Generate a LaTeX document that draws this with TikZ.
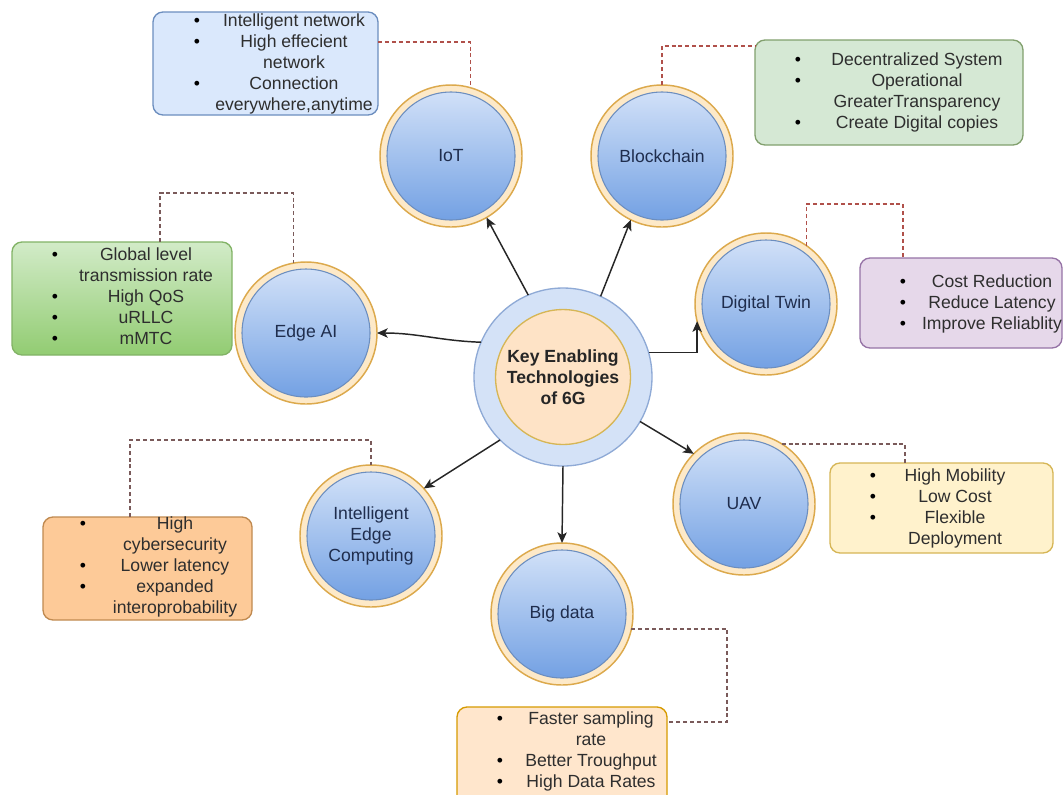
\documentclass[tikz,border=0pt]{standalone}
\usepackage{fontspec}
\setmainfont{Liberation Sans}
\usepackage{array}
\usetikzlibrary{arrows.meta,calc,fit}

\definecolor{ringfill}{HTML}{FDE9C8}
\definecolor{ringline}{HTML}{DCA94C}
\definecolor{blueTop}{HTML}{D6E4F9}
\definecolor{blueBot}{HTML}{6E9DE2}
\definecolor{blueLine}{HTML}{6C8EBF}
\definecolor{techtext}{HTML}{1F2D4D}
\definecolor{hubring}{HTML}{D4E2F7}
\definecolor{hubline}{HTML}{8FAAD6}
\definecolor{hubcore}{HTML}{FEE3C6}
\definecolor{hubcoreline}{HTML}{D6B656}
\definecolor{boxtext}{HTML}{2E2E2E}
\definecolor{arrowcol}{HTML}{262626}
\definecolor{reddash}{HTML}{B0504A}
\definecolor{greydash}{HTML}{7A5A5A}
% box colours
\definecolor{iotfill}{HTML}{DAE8FC}
\definecolor{iotline}{HTML}{6C8EBF}
\definecolor{bcfill}{HTML}{D5E8D4}
\definecolor{bcline}{HTML}{82A06E}
\definecolor{dtfill}{HTML}{E6D8EA}
\definecolor{dtline}{HTML}{9673A6}
\definecolor{eatop}{HTML}{D2EBC8}
\definecolor{eabot}{HTML}{92CC72}
\definecolor{ealine}{HTML}{82B366}
\definecolor{iecfill}{HTML}{FDCA98}
\definecolor{iecline}{HTML}{C08A50}
\definecolor{uavfill}{HTML}{FFF2CC}
\definecolor{uavline}{HTML}{D6B656}
\definecolor{bdfill}{HTML}{FFE6CC}
\definecolor{bdline}{HTML}{D79B00}

% bulleted list: #1 = width of the centred text column, #2 = rows
\newcommand\bltab[2]{%
  \begin{tabular}{@{}>{\centering\arraybackslash}p{6pt}@{}>{\centering\arraybackslash}p{#1}@{}}#2\end{tabular}}
\newcommand\bul{\textcolor{black}{\textbullet}}

\begin{document}
\begin{tikzpicture}[x=0.75pt,y=-0.75pt,
  font=\fontsize{13.2pt}{15.75pt}\selectfont,
  tech/.style={circle, minimum size=106.5pt, inner sep=0pt, outer sep=0pt,
    fill=ringfill, draw=ringline, line width=1.1pt, text=techtext, align=center,
    path picture={\shade[top color=blueTop, bottom color=blueBot, draw=blueLine,
      line width=0.8pt] (path picture bounding box.center) circle[radius=48pt];}},
  hubstyle/.style={circle, minimum size=133.5pt, inner sep=0pt, outer sep=0pt,
    fill=hubring, draw=hubline, line width=1pt, align=center,
    font=\fontsize{13.2pt}{15.75pt}\selectfont\bfseries, text=black!85,
    path picture={\filldraw[fill=hubcore, draw=hubcoreline, line width=1pt]
      (path picture bounding box.center) circle[radius=50.6pt];}},
  infobox/.style={rectangle, rounded corners=7.5pt, inner sep=0pt, outer sep=0pt,
    line width=1pt},
  listnode/.style={anchor=west, inner sep=0pt, outer sep=0pt, text=boxtext},
  arr/.style={draw=arrowcol, line width=1.1pt,
    -{Stealth[length=8pt,width=7pt,inset=2pt]}},
  dotln/.style={draw=#1, line width=1.1pt, dash pattern=on 3pt off 2.2pt}
]
\useasboundingbox (0,0) rectangle (1064,794);
\fill[white] (0,0) rectangle (1064,794);
\clip (0,0) rectangle (1064,794);

% ---- central hub and the eight technologies
\node[hubstyle] (hub) at (563,377) {Key Enabling\\Technologies\\of 6G};
\node[tech] (iot) at (451,156) {IoT};
\node[tech] (bc)  at (662,156) {Blockchain};
\node[tech] (dt)  at (766,304) {Digital Twin};
\node[tech] (ea)  at (306,333) {Edge AI};
\node[tech] (uav) at (744,504) {UAV};
\node[tech] (iec) at (371,536) {Intelligent\\Edge\\Computing};
\node[tech] (bd)  at (562,614) {Big data};

% ---- feature boxes
\node[infobox, fill=iotfill, draw=iotline, fit={(153,12) (378,115)}] (iotbox) {};
\node[infobox, fill=bcfill, draw=bcline, fit={(755,40) (1023,145)}] (bcbox) {};
\node[infobox, fill=dtfill, draw=dtline, fit={(860,258) (1062,348)}] (dtbox) {};
\node[infobox, top color=eatop, bottom color=eabot, draw=ealine,
      fit={(12,242) (232,355)}] (eabox) {};
\node[infobox, fill=iecfill, draw=iecline, fit={(43,517) (252,620)}] (iecbox) {};
\node[infobox, fill=uavfill, draw=uavline, fit={(830,463) (1053,553)}] (uavbox) {};
\node[infobox, fill=bdfill, draw=bdline, fit={(457,707) (667,808)}] (bdbox) {};

% ---- box contents
\node[listnode] (iotlist) at (193,64) {\bltab{139.5pt}{%
  \bul & Intelligent network\\
  \bul & High effecient\\
       & network\\
  \bul & Connection\\
       & everywhere,anytime}};
\node[listnode] (bclist) at (794,93) {\bltab{172.5pt}{%
  \bul & Decentralized System\\
  \bul & Operational\\
       & GreaterTransparency\\
  \bul & Create Digital copies}};
\node[listnode] (dtlist) at (899,304) {\bltab{127.5pt}{%
  \bul & Cost Reduction\\
  \bul & Reduce Latency\\
  \bul & Improve Reliablity}};
\node[listnode] (ealist) at (51,298) {\bltab{130.5pt}{%
  \bul & Global level\\
       & transmission rate\\
  \bul & High QoS\\
  \bul & uRLLC\\
  \bul & mMTC}};
\node[listnode] (ieclist) at (79,567) {\bltab{132pt}{%
  \bul & High\\
       & cybersecurity\\
  \bul & Lower latency\\
  \bul & expanded\\
       & interoprobability}};
\node[listnode] (uavlist) at (869,509) {\bltab{117pt}{%
  \bul & High Mobility\\
  \bul & Low Cost\\
  \bul & Flexible\\
       & Deployment}};
\node[listnode] (bdlist) at (496,752) {\bltab{130.5pt}{%
  \bul & Faster sampling\\
       & rate\\
  \bul & Better Troughput\\
  \bul & High Data Rates}};

% ---- arrows from the hub
\draw[arr] (hub.113) -- (iot.300);
\draw[arr] (hub.65) -- (bc.244);
\draw[arr] (hub.16) -| (dt.194);
\draw[arr] (hub.157) to[out=178,in=0] (ea.0);
\draw[arr] (hub.330) -- (uav.135);
\draw[arr] (hub.225) -- (iec.42);
\draw[arr] (hub.south) -- (bd.north);

% ---- dashed links between circles and boxes
\draw[dotln=reddash] ($(iotbox.north east)+(0,30)$) -| (iot.74);
\draw[dotln=reddash] (bc.north) |- ($(bcbox.north west)+(0,6)$);
\draw[dotln=reddash] (dt.55) -- ++(0,-42) -| ($(dtbox.north west)+(43,0)$);
\draw[dotln=greydash] ($(eabox.north west)+(148,0)$) -- ++(0,-49) -| (ea.100);
\draw[dotln=greydash] ($(iecbox.north west)+(87,0)$) -- ++(0,-77) -| (iec.north);
\draw[dotln=greydash] (uav.58) -| ($(uavbox.north west)+(75,0)$);
\draw[dotln=greydash] (bd.348) -| ($(bdbox.north east)+(60,15)$)
  -- ($(bdbox.north east)+(0,15)$);
\end{tikzpicture}
\end{document}
